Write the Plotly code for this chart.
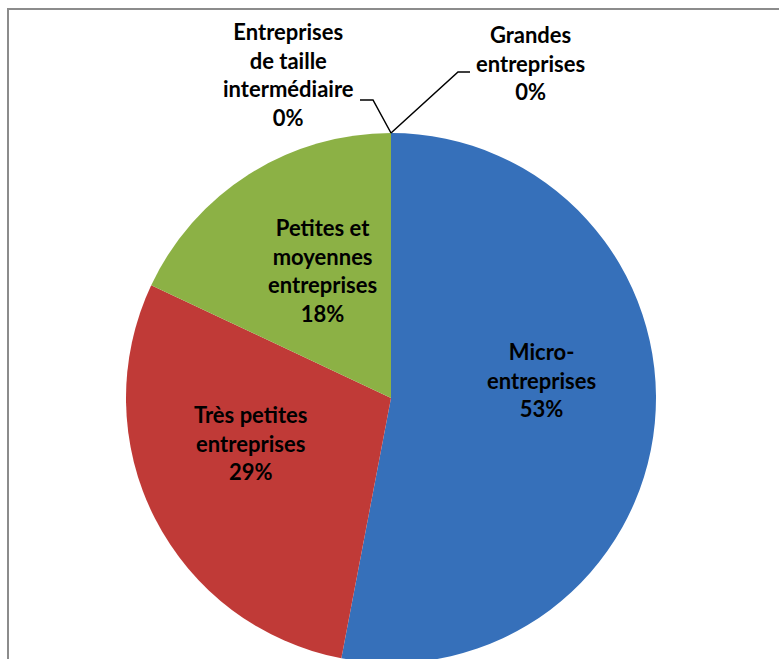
import plotly.graph_objects as go

# data
categories = ["Micro-entreprises", "Très petites entreprises", "Petites et moyennes entreprises",
              "Entreprises de taille intermédiaire", "Grandes entreprises"]
shares = [53, 29, 18, 0, 0]
label_lines = ["Micro-<br>entreprises", "Très petites<br>entreprises",
               "Petites et<br>moyennes<br>entreprises", "Entreprises<br>de taille<br>intermédiaire",
               "Grandes<br>entreprises"]
colors = ["#3670BA", "#C03A37", "#8CB145", "#7F7F7F", "#5B9BD5"]

W, H = 779, 700
cx, cy, r = 391, 398, 265  # pie centre / radius in px (from top-left)
# label centres in px (from top-left), yanchor for each
label_pos = [(541, 380, "middle"), (250, 443, "middle"), (322, 270, "middle"),
             (288, 16, "top"), (530, 19, "top")]

fig = go.Figure()
fig.add_trace(go.Pie(
    labels=categories, values=shares, textinfo="none",
    sort=False, direction="clockwise", rotation=0,
    marker=dict(colors=colors, line=dict(width=0)),
    domain=dict(x=[(cx - r) / W, (cx + r) / W], y=[(H - cy - r) / H, (H - cy + r) / H]),
    showlegend=False, hoverinfo="label+percent",
))

font = dict(family="Lato", size=22, color="black", weight="bold")
for txt, val, (px, py, anchor) in zip(label_lines, shares, label_pos):
    fig.add_annotation(x=px / W, y=1 - py / H, xref="paper", yref="paper",
                       xanchor="center", yanchor=anchor,
                       text=f"{txt}<br>{val}%", showarrow=False, font=font, align="center")

# leader lines to the top of the pie, where the two zero slices sit
tx, ty = cx / W, 1 - (cy - r) / H
line = dict(color="black", width=1.5)
fig.add_shape(type="path", xref="paper", yref="paper", line=line,
              path=f"M {360/W} {1-100/H} L {373/W} {1-100/H} L {tx} {ty}")
fig.add_shape(type="path", xref="paper", yref="paper", line=line,
              path=f"M {tx} {ty} L {458/W} {1-72/H} L {470/W} {1-72/H}")
# chart frame (only top and left edges visible)
fig.add_shape(type="rect", xref="paper", yref="paper", x0=8 / W, x1=1.05, y0=-0.1, y1=1 - 9 / H,
              line=dict(color="#8C8C8C", width=2), fillcolor="rgba(0,0,0,0)")

fig.update_layout(width=W, height=H, margin=dict(l=0, r=0, t=0, b=0),
                  paper_bgcolor="white", plot_bgcolor="white")

fig.write_html("out.html", config={"displayModeBar": False},
               post_script="document.body.style.margin='0';document.body.style.overflow='hidden';")
